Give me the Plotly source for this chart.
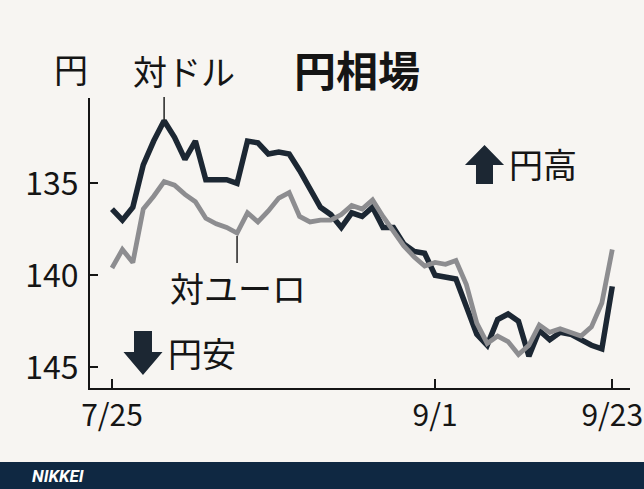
import plotly.graph_objects as go

# ---- data ----
idx = list(range(49))
tick_idx = [0, 31, 48]
tick_labels = ["7/25", "9/1", "9/23"]
y_ticks = [135, 140, 145]

usd = [136.4, 137.0, 136.3, 134.0, 132.7, 131.6, 132.5, 133.7, 132.7, 134.8,
       134.8, 134.8, 135.0, 132.7, 132.8, 133.4, 133.3, 133.4, 134.3, 135.3,
       136.3, 136.7, 137.4, 136.6, 136.8, 136.3, 137.4, 137.4, 138.3, 138.7,
       138.8, 140.0, 140.1, 140.2, 141.7, 143.2, 143.8, 142.4, 142.1, 142.5,
       144.4, 143.0, 143.5, 143.1, 143.2, 143.5, 143.8, 144.0, 140.6]

eur = [139.6, 138.6, 139.3, 136.4, 135.7, 134.9, 135.1, 135.6, 136.0, 136.9,
       137.2, 137.4, 137.7, 136.6, 137.1, 136.5, 135.8, 135.5, 136.8, 137.1,
       137.0, 137.0, 136.7, 136.2, 136.4, 135.9, 136.8, 137.6, 138.4, 139.0,
       139.5, 139.3, 139.4, 139.2, 140.5, 142.6, 143.7, 143.3, 143.6, 144.3,
       143.8, 142.7, 143.1, 142.9, 143.1, 143.3, 142.8, 141.5, 138.6]

# ---- layout geometry ----
W, H = 644, 489
L, R, T, B = 90, 630, 98, 388
PW, PH = R - L, B - T

def px(x):
    return (x - L) / PW

def py(y):
    return (B - y) / PH

FONT = "Noto Sans CJK JP"
DARK = "#1c2733"
GRAY = "#8d8d90"
BG = "#f7f5f2"

fig = go.Figure()
fig.add_trace(go.Scatter(x=idx, y=usd, mode="lines",
                         line=dict(color=DARK, width=5.5), hoverinfo="skip"))
fig.add_trace(go.Scatter(x=idx, y=eur, mode="lines",
                         line=dict(color=GRAY, width=4.8), hoverinfo="skip"))

shapes = []
# leader lines
shapes.append(dict(type="line", xref="x", yref="paper", x0=5, x1=5,
                   y0=py(120), y1=py(97), line=dict(color="#222", width=1.5)))
shapes.append(dict(type="line", xref="x", yref="paper", x0=12, x1=12,
                   y0=py(236), y1=py(263), line=dict(color="#222", width=1.5)))

def path(pts):
    s = "M " + " L ".join(f"{px(a):.4f},{py(b):.4f}" for a, b in pts) + " Z"
    return s

# up arrow (円高)
up = [(484.5, 145), (504, 165), (493, 165), (493, 184), (476, 184), (476, 165), (465, 165)]
shapes.append(dict(type="path", xref="paper", yref="paper", path=path(up),
                   fillcolor=DARK, line=dict(width=0)))
# down arrow (円安)
dn = [(143, 375), (162.5, 352), (152, 352), (152, 331), (134, 331), (134, 352), (123.5, 352)]
shapes.append(dict(type="path", xref="paper", yref="paper", path=path(dn),
                   fillcolor=DARK, line=dict(width=0)))
# footer band
shapes.append(dict(type="rect", xref="paper", yref="paper",
                   x0=px(-5), x1=px(W + 5), y0=py(462), y1=py(H + 5),
                   fillcolor="#0f2842", line=dict(width=0), layer="below"))

ann = []
def text(t, x, y, size, bold=False, color="#151515", xanchor="center", family=FONT):
    ann.append(dict(text=f"<b>{t}</b>" if bold else t, x=px(x), y=py(y),
                    xref="paper", yref="paper", showarrow=False,
                    xanchor=xanchor, yanchor="middle",
                    font=dict(family=family, size=size, color=color)))

text("円", 71, 69, 34)
text("対ドル", 184, 70, 34)
text("円相場", 357, 68, 42, bold=True)
text("対ユーロ", 238, 287, 34)
text("円高", 543, 163, 34)
text("円安", 202, 352, 34)
text("<i>NIKKEI</i>", 30, 476, 17, bold=True, color="white", xanchor="left",
     family="Roboto")

fig.update_layout(
    width=W, height=H,
    margin=dict(l=L, r=W - R, t=T, b=H - B, pad=0, autoexpand=False),
    paper_bgcolor=BG, plot_bgcolor=BG,
    showlegend=False,
    shapes=shapes, annotations=ann,
    font=dict(family=FONT, color="#151515"),
    xaxis=dict(range=[-2.11, 49.7], showgrid=False, zeroline=False,
               showline=True, linecolor="#151515", linewidth=2,
               ticks="inside", ticklen=9, tickwidth=2, tickcolor="#151515",
               tickvals=tick_idx, ticktext=tick_labels,
               ticklabeloverflow="allow", automargin=False,
               tickfont=dict(family=FONT, size=30, color="#151515")),
    yaxis=dict(range=[146.125, 130.36], showgrid=False, zeroline=False,
               showline=True, linecolor="#151515", linewidth=2,
               ticks="inside", ticklen=8, tickwidth=2, tickcolor="#151515",
               tickvals=y_ticks, ticktext=[str(v) for v in y_ticks],
               ticklabelstandoff=3, automargin=False,
               tickfont=dict(family=FONT, size=32, color="#151515")),
)

fig.write_html("out.html")
